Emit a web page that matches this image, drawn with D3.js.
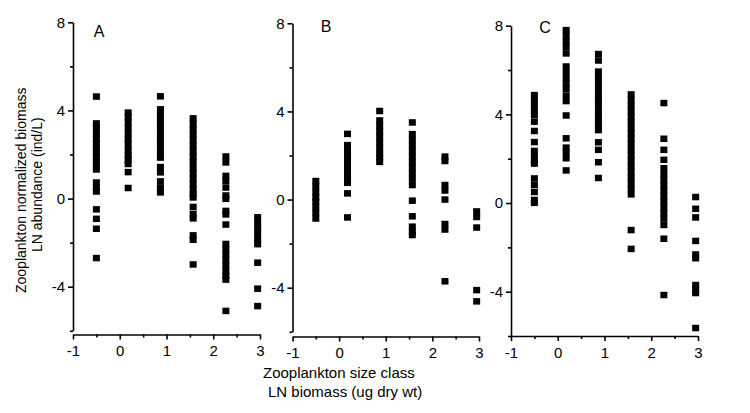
<!DOCTYPE html>
<html>
<head>
<meta charset="utf-8">
<script src="https://cdn.jsdelivr.net/npm/d3@7"></script>
<style>
  body { margin: 0; background: #fff; }
  svg text { font-family: "Liberation Sans", Arial, sans-serif; fill: #000; }
</style>
</head>
<body>
<svg id="chart" width="750" height="413"></svg>
<script>
// size classes (LN biomass)
let sizeClasses = [-0.5, 0.18, 0.87, 1.57, 2.27, 2.95];
let xTicks = [-1, 0, 1, 2, 3];
let xMinor = [-0.5, 0.5, 1.5, 2.5];
let yTicks = [8, 4, 0, -4];
let yMinor = [6, 2, -2, -6];
let panelNames = ["A", "B", "C"];

// normalized biomass values, one list per size class
let panelA = [
    [4.63, 3.41, 3.2, 2.95, 2.7, 2.5, 2.3, 2.1, 1.9, 1.7, 1.5, 1.32, 0.73, 0.5, 0.32, -0.49, -0.92, -1.37, -2.7],
    [3.9, 3.7, 3.45, 3.2, 2.95, 2.7, 2.45, 2.2, 1.95, 1.75, 1.57, 1.2, 0.48],
    [4.64, 4.05, 3.8, 3.55, 3.3, 3.05, 2.8, 2.55, 2.3, 2.05, 1.86, 1.43, 1.19, 0.78, 0.5, 0.28],
    [3.64, 3.4, 3.15, 2.9, 2.65, 2.4, 2.15, 1.9, 1.65, 1.4, 1.15, 0.9, 0.65, 0.4, 0.2, 0.05, -0.38, -0.7, -0.9, -1.67, -1.87, -2.99],
    [1.91, 1.64, 1.03, 0.8, 0.5, 0.14, -0.01, -0.56, -0.72, -1.18, -2.06, -2.3, -2.55, -2.8, -3.05, -3.3, -3.5, -3.68, -5.1],
    [-0.85, -1.1, -1.35, -1.6, -1.85, -2.07, -2.91, -4.09, -4.88]
];
let panelB = [
    [0.84, 0.6, 0.35, 0.1, -0.1, -0.35, -0.6, -0.86],
    [2.98, 2.47, 2.2, 1.95, 1.7, 1.45, 1.2, 0.95, 0.76, 0.28, -0.81],
    [4.02, 3.59, 3.35, 3.1, 2.85, 2.6, 2.35, 2.1, 1.9, 1.71],
    [3.5, 2.97, 2.7, 2.45, 2.2, 1.95, 1.7, 1.45, 1.2, 0.95, 0.66, -0.05, -0.76, -1.23, -1.45, -1.61],
    [1.95, 1.75, 0.66, 0.41, 0.0, -1.11, -1.36, -3.71],
    [-0.54, -0.79, -1.27, -4.11, -4.62]
];
let panelC = [
    [4.87, 4.64, 4.42, 4.19, 3.97, 3.67, 3.25, 2.75, 2.35, 2.12, 1.89, 1.78, 1.11, 0.82, 0.5, 0.14, 0.01],
    [7.8, 7.55, 7.3, 7.05, 6.75, 6.16, 5.9, 5.65, 5.4, 5.15, 4.85, 4.6, 3.95, 2.92, 2.5, 2.28, 2.02, 1.47],
    [6.72, 6.43, 5.93, 5.68, 5.43, 5.18, 4.93, 4.68, 4.43, 4.18, 3.93, 3.68, 3.45, 3.29, 2.74, 2.4, 1.84, 1.13],
    [4.9, 4.65, 4.4, 4.15, 3.9, 3.65, 3.4, 3.15, 2.9, 2.65, 2.4, 2.15, 1.9, 1.65, 1.4, 1.15, 0.9, 0.65, 0.39, -1.22, -2.07],
    [4.51, 2.9, 2.4, 1.95, 1.57, 1.3, 1.05, 0.8, 0.55, 0.3, 0.05, -0.2, -0.45, -0.7, -0.99, -1.61, -4.15],
    [0.27, -0.26, -0.65, -1.71, -2.32, -2.49, -3.7, -3.9, -4.06, -5.64]
];

let svg = d3.select("#chart");

// pixel frame of each panel (left = x of -1, right = x of 3, y8 / yM4 = y of 8 and -4)
let frames = [
    {left: 73, right: 260, y8: 22.3, yM4: 286.7, axisY: 334.5, label: [99, 37]},
    {left: 292.5, right: 479, y8: 23.3, yM4: 287.7, axisY: 336.5, label: [326, 32]},
    {left: 511, right: 698, y8: 25.7, yM4: 291.7, axisY: 336, label: [545, 33]}
];
let panels = [panelA, panelB, panelC];

function minus(d) {
    return d < 0 ? "-" + Math.abs(d) : String(d);
}

function drawPanel(data, f, name) {
    let x = d3.scaleLinear().domain([-1, 3]).range([f.left, f.right]);
    let y = d3.scaleLinear().domain([8, -4]).range([f.y8, f.yM4]);
    let g = svg.append("g");

    // x axis
    let xa = g.append("g")
        .attr("transform", "translate(0," + f.axisY + ")")
        .call(d3.axisBottom(x).tickValues(xTicks).tickFormat(minus)
            .tickSize(5).tickSizeOuter(0).tickPadding(6));
    g.append("g")
        .attr("transform", "translate(0," + f.axisY + ")")
        .call(d3.axisBottom(x).tickValues(xMinor).tickFormat(() => "").tickSize(3).tickSizeOuter(0))
        .select(".domain").remove();

    // y axis, runs from 8 down to -6
    let ya = g.append("g")
        .attr("transform", "translate(" + f.left + ",0)")
        .call(d3.axisLeft(y.copy().domain([8, -6]).range([f.y8, y(-6)])).tickValues(yTicks)
            .tickFormat(minus).tickSize(5).tickSizeOuter(0).tickPadding(3));
    g.append("g")
        .attr("transform", "translate(" + f.left + ",0)")
        .call(d3.axisLeft(y).tickValues(yMinor).tickFormat(() => "").tickSize(3).tickSizeOuter(0))
        .select(".domain").remove();

    g.selectAll(".domain, .tick line").attr("stroke", "#000").attr("stroke-width", 1.6);
    xa.selectAll(".tick text").style("font-size", "15px").attr("fill", "#000");
    ya.selectAll(".tick text").style("font-size", "15px").attr("fill", "#000");

    // squares
    data.forEach(function (col, i) {
        g.selectAll(null)
            .data(col)
            .enter()
            .append("rect")
            .attr("x", x(sizeClasses[i]) - 3.5)
            .attr("y", function (d) { return y(d) - 3.25; })
            .attr("width", 7)
            .attr("height", 6.5)
            .attr("fill", "#000");
    });

    g.append("text")
        .attr("x", f.label[0])
        .attr("y", f.label[1])
        .attr("text-anchor", "middle")
        .style("font-size", "16px")
        .text(name);
}

panels.forEach(function (p, i) {
    drawPanel(p, frames[i], panelNames[i]);
});

// axis titles
svg.append("text").attr("x", 263).attr("y", 378).style("font-size", "15px")
    .text("Zooplankton size class");
svg.append("text").attr("x", 268).attr("y", 397).style("font-size", "15px")
    .text("LN biomass (ug dry wt)");
svg.append("text").attr("transform", "translate(26,293) rotate(-90)").style("font-size", "14px")
    .text("Zooplankton normalized biomass");
svg.append("text").attr("transform", "translate(42,252) rotate(-90)").style("font-size", "14px")
    .text("LN abundance (ind/L)");
</script>
</body>
</html>
